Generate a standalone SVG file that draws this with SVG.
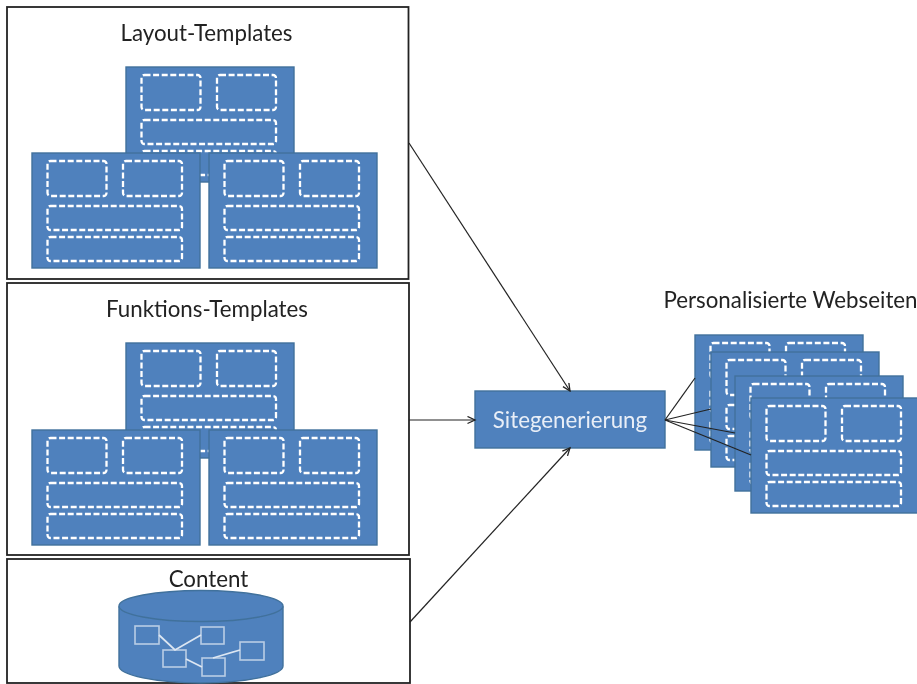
<svg xmlns="http://www.w3.org/2000/svg" xmlns:xlink="http://www.w3.org/1999/xlink" width="917" height="684" viewBox="0 0 917 684">
<style>
.frame{fill:#fff;stroke:#222;stroke-width:1.8}
.page{fill:#4f81bd;stroke:#41719c;stroke-width:1.4}
.dash{fill:none;stroke:#fff;stroke-width:2.300;stroke-dasharray:6 2.6}
.lbl{font-family:Lato,"Liberation Sans",sans-serif;font-size:22.300px;fill:#222;text-anchor:middle}
.conn{fill:none;stroke:#222;stroke-width:1.2}
.icon{fill:none;stroke:#b9cde5;stroke-width:1.6}
.link{fill:none;stroke:#dce6f2;stroke-width:1.8}
</style>
<defs>
<filter id="soft" x="-2%" y="-2%" width="104%" height="104%"><feGaussianBlur stdDeviation="0.6"/></filter>
<marker id="arrow" markerWidth="10" markerHeight="10" refX="8.500" refY="4" orient="auto" markerUnits="userSpaceOnUse"><path d="M1 0.500L8.500 4L1 7.500" fill="none" stroke="#222" stroke-width="1.300"/></marker>
<g id="page">
<rect class="page" width="168" height="115"/>
<rect class="dash" x="15.500" y="8" width="59" height="35" rx="3"/>
<rect class="dash" x="91" y="8" width="59" height="35" rx="3"/>
<rect class="dash" x="15.500" y="53" width="134.500" height="24" rx="3"/>
<rect class="dash" x="15.500" y="84" width="134.500" height="24" rx="3"/>
</g>
</defs>
<rect width="917" height="684" fill="#fff"/>
<g filter="url(#soft)">
<g id="layout-templates">
<rect class="frame" x="7" y="7" width="401.500" height="272"/>
<text class="lbl" x="206.500" y="41">Layout-Templates</text>
<use xlink:href="#page" x="126" y="67"/>
<use xlink:href="#page" x="32" y="153"/>
<use xlink:href="#page" x="209" y="153"/>
</g>
<g id="funktions-templates">
<rect class="frame" x="7" y="283" width="402" height="272"/>
<text class="lbl" x="207" y="317">Funktions-Templates</text>
<use xlink:href="#page" x="126" y="343"/>
<use xlink:href="#page" x="32" y="430"/>
<use xlink:href="#page" x="209" y="430"/>
</g>
<g id="content">
<rect class="frame" x="7" y="559" width="403" height="124"/>
<text class="lbl" x="208.500" y="587">Content</text>
<path d="M119 607V666C119 675 156 683 201 683S283 675 283 666V607Z" fill="#4f81bd" stroke="#41719c" stroke-width="1.400"/>
<ellipse cx="201" cy="606" rx="82" ry="15.500" fill="#4f81bd" stroke="#41719c" stroke-width="1.400"/>
<rect class="icon" x="135" y="626" width="24" height="18"/>
<rect class="icon" x="201" y="627" width="23" height="17"/>
<rect class="icon" x="163" y="650" width="23" height="17"/>
<rect class="icon" x="202" y="658" width="23" height="18"/>
<rect class="icon" x="240" y="642" width="24" height="18"/>
<path class="link" d="M159 635L175 650L201 635M186 659L202 667M213 658L240 650"/>
</g>
<g id="sitegenerierung">
<rect class="page" x="475" y="391" width="190" height="57"/>
<text class="lbl" x="570" y="428" style="fill:#e8eef7">Sitegenerierung</text>
</g>
<g id="personalisierte-webseiten">
<text class="lbl" x="790.500" y="308">Personalisierte Webseiten</text>
<use xlink:href="#page" x="695" y="335"/>
<use xlink:href="#page" x="711" y="352"/>
<use xlink:href="#page" x="735" y="376"/>
<use xlink:href="#page" x="751" y="398"/>
</g>
<g id="connectors">
<line class="conn" x1="409" y1="143" x2="570" y2="391" marker-end="url(#arrow)"/>
<line class="conn" x1="409" y1="420" x2="475" y2="420" marker-end="url(#arrow)"/>
<line class="conn" x1="410" y1="622" x2="570" y2="448" marker-end="url(#arrow)"/>
<line class="conn" x1="665" y1="420" x2="695" y2="378"/>
<line class="conn" x1="665" y1="420" x2="711" y2="409"/>
<line class="conn" x1="665" y1="420" x2="735" y2="433"/>
<line class="conn" x1="665" y1="420" x2="751" y2="455"/>
</g>
</g>
</svg>
